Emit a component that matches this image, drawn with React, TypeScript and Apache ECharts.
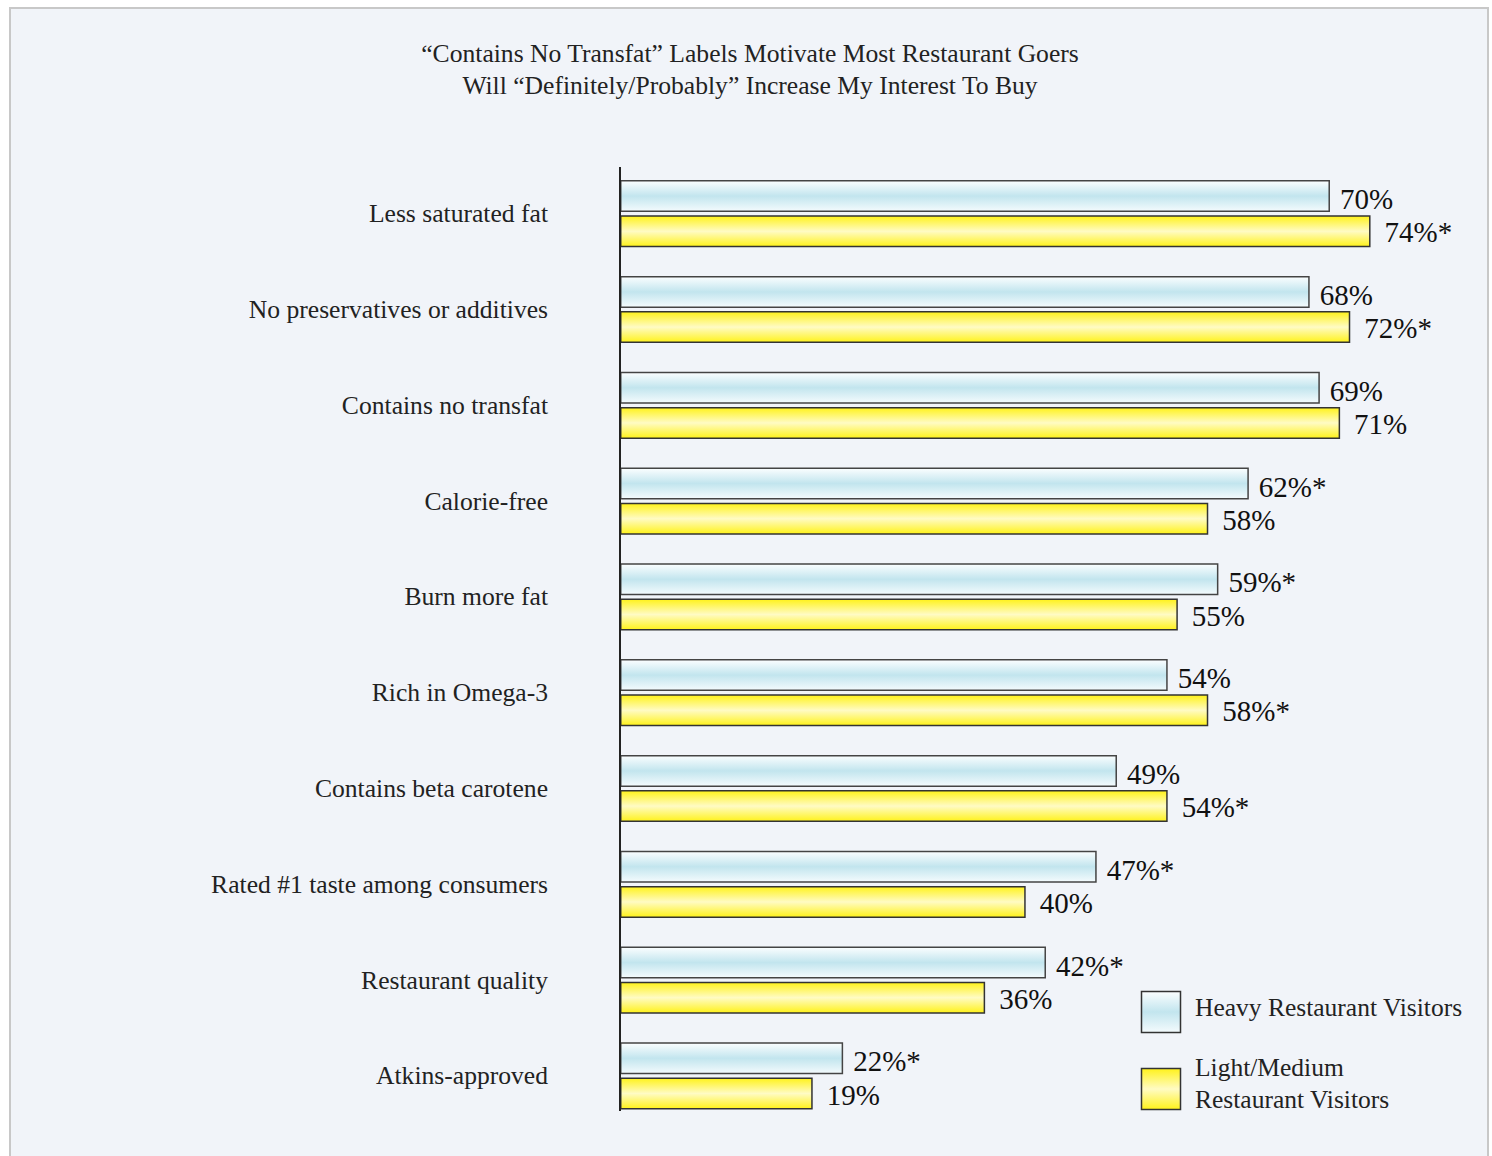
import React, { useEffect, useRef } from "react";
import * as echarts from "echarts";

const categories = [
  "Less saturated fat",
  "No preservatives or additives",
  "Contains no transfat",
  "Calorie-free",
  "Burn more fat",
  "Rich in Omega-3",
  "Contains beta carotene",
  "Rated #1 taste among consumers",
  "Restaurant quality",
  "Atkins-approved",
];
const heavyValues = [70, 68, 69, 62, 59, 54, 49, 47, 42, 22];
const heavyStar = [false, false, false, true, true, false, false, true, true, true];
const lightValues = [74, 72, 71, 58, 55, 58, 54, 40, 36, 19];
const lightStar = [true, true, false, false, false, true, true, false, false, false];
const seriesNames = ["Heavy Restaurant Visitors", "Light/Medium\nRestaurant Visitors"];
const titleLines = [
  "\u201cContains No Transfat\u201d Labels Motivate Most Restaurant Goers",
  "Will \u201cDefinitely/Probably\u201d Increase My Interest To Buy",
];

const FONT = "'Liberation Serif', 'DejaVu Serif', serif";

export default function App() {
  const ref = useRef<HTMLDivElement>(null);
  useEffect(() => {
    document.body.style.margin = "0";
    if (!ref.current) return;
    const chart = echarts.init(ref.current, undefined, { renderer: "svg" });
    const blueStops = [
      { offset: 0, color: "#fbfeff" },
      { offset: 0.5, color: "#c2e5ee" },
      { offset: 1, color: "#f4fbfd" },
    ];
    const yellowStops = [
      { offset: 0, color: "#fff21a" },
      { offset: 0.5, color: "#fffbc4" },
      { offset: 1, color: "#fff21a" },
    ];
    const blueGrad = new echarts.graphic.LinearGradient(0, 0, 0, 1, blueStops);
    const yellowGrad = new echarts.graphic.LinearGradient(0, 0, 0, 1, yellowStops);
    const legendText = {
      fontFamily: FONT,
      fontSize: 25.5,
      fill: "#222",
      lineHeight: 32,
      verticalAlign: "middle",
      align: "left",
    };
    const option: any = {
      animation: false,
      backgroundColor: "#ffffff",
      textStyle: { fontFamily: FONT },
      title: {
        text: titleLines.join("\n"),
        left: 745,
        textAlign: "center",
        top: 32,
        textStyle: {
          fontFamily: FONT,
          fontSize: 25.6,
          fontWeight: "normal",
          color: "#222",
          lineHeight: 32,
        },
      },
      graphic: [
        {
          type: "rect",
          z: -10,
          silent: true,
          shape: { x: 10, y: 8, width: 1478, height: 1170 },
          style: { fill: "#f1f4f9", stroke: "#c8c8c8", lineWidth: 2 },
        },
        {
          type: "line",
          z: 10,
          silent: true,
          shape: { x1: 620, y1: 167, x2: 620, y2: 1111 },
          style: { stroke: "#222", lineWidth: 2 },
        },
        {
          type: "rect",
          silent: true,
          shape: { x: 1141.5, y: 991.5, width: 39, height: 41 },
          style: {
            fill: new echarts.graphic.LinearGradient(0, 0, 0, 1, blueStops),
            stroke: "#333",
            lineWidth: 1.5,
          },
        },
        {
          type: "text",
          silent: true,
          x: 1195,
          y: 1007.5,
          style: { ...legendText, text: seriesNames[0] },
        },
        {
          type: "rect",
          silent: true,
          shape: { x: 1141.5, y: 1068.5, width: 39, height: 41 },
          style: {
            fill: new echarts.graphic.LinearGradient(0, 0, 0, 1, yellowStops),
            stroke: "#333",
            lineWidth: 1.5,
          },
        },
        {
          type: "text",
          silent: true,
          x: 1195,
          y: 1083.5,
          style: { ...legendText, text: seriesNames[1] },
        },
      ],
      grid: { left: 620, top: 165.8, width: 811.4, height: 958 },
      xAxis: {
        type: "value",
        min: 0,
        max: 80,
        show: false,
      },
      yAxis: {
        type: "category",
        data: categories,
        inverse: true,
        axisLine: { show: false },
        axisTick: { show: false },
        axisLabel: {
          margin: 72,
          fontFamily: FONT,
          fontSize: 25.6,
          color: "#222",
          padding: [0, 0, 3, 0],
        },
      },
      series: [
        {
          name: seriesNames[0],
          type: "bar",
          data: heavyValues,
          barWidth: 32,
          barGap: "10%",
          barCategoryGap: "30%",
          itemStyle: { color: blueGrad, borderColor: "#444", borderWidth: 1.5 },
          label: {
            show: true,
            position: "right",
            distance: 10,
            offset: [0, 3],
            fontFamily: FONT,
            fontSize: 29,
            color: "#111",
            formatter: (p: any) => p.value + "%" + (heavyStar[p.dataIndex] ? "*" : ""),
          },
        },
        {
          name: seriesNames[1],
          type: "bar",
          data: lightValues,
          barWidth: 32,
          itemStyle: { color: yellowGrad, borderColor: "#333", borderWidth: 1.5 },
          label: {
            show: true,
            position: "right",
            distance: 14,
            offset: [0, 1],
            fontFamily: FONT,
            fontSize: 29,
            color: "#111",
            formatter: (p: any) => p.value + "%" + (lightStar[p.dataIndex] ? "*" : ""),
          },
        },
      ],
    };
    chart.setOption(option);
    return () => chart.dispose();
  }, []);
  return <div ref={ref} style={{ width: 1492, height: 1156 }} />;
}
